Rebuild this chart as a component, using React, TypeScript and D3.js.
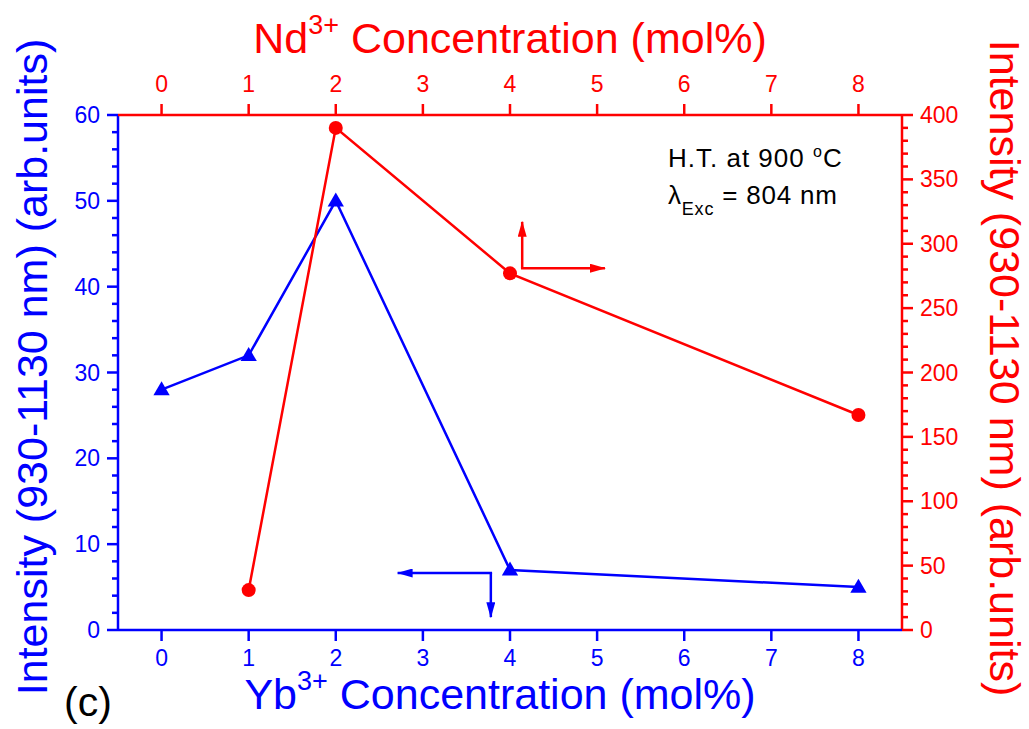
import React from 'react'
import * as d3 from 'd3'

// concentration steps (shared by both x axes)
const concTicks = [0, 1, 2, 3, 4, 5, 6, 7, 8]

// Yb3+ series (left axis, blue triangles)
const ybConc = [0, 1, 2, 4, 8]
const ybIntensity = [28, 32, 50, 7, 5]

// Nd3+ series (right axis, red circles)
const ndConc = [1, 2, 4, 8]
const ndIntensity = [31, 390, 277, 167]

const leftTicks = [0, 10, 20, 30, 40, 50, 60]
const rightTicks = [0, 50, 100, 150, 200, 250, 300, 350, 400]

const W = 1029
const H = 729
const m = { left: 118, right: 902, top: 115, bottom: 630 }
const BLUE = '#0000ff'
const RED = '#ff0000'
const FONT = '"Liberation Sans", Arial, sans-serif'

export default function App() {
  const x = d3.scaleLinear().domain([-0.5, 8.5]).range([m.left, m.right])
  const yL = d3.scaleLinear().domain([0, 60]).range([m.bottom, m.top])
  const yR = d3.scaleLinear().domain([0, 400]).range([m.bottom, m.top])

  const ybLine = d3.line<number>().x((d, i) => x(ybConc[i])).y(d => yL(d))
  const ndLine = d3.line<number>().x((d, i) => x(ndConc[i])).y(d => yR(d))

  const leftMinor = d3.range(0, 61, 2).filter(v => v % 10 !== 0)
  const rightMinor = d3.range(0, 401, 10).filter(v => v % 50 !== 0)

  const tri = d3.symbol().type(d3.symbolTriangle).size(115)()

  // arrow annotations (in data units)
  const redArrow = { x0: 4.14, y0: 281, yUp: 317, xRight: 5.09 }
  const blueArrow = { x0: 3.78, y0: 6.64, xLeft: 2.71, yDown: 1.5 }

  const tickFont = 23
  const titleFont = 43

  return (
    <svg width={W} height={H} style={{ position: 'absolute', left: 0, top: 0, background: '#fff' }} fontFamily={FONT}>
      <defs>
        <marker id="ahRed" viewBox="0 0 16 9" refX="15" refY="4.5" markerWidth="16" markerHeight="9" orient="auto" markerUnits="userSpaceOnUse">
          <path d="M0,0 L16,4.5 L0,9 z" fill={RED} />
        </marker>
        <marker id="ahBlue" viewBox="0 0 16 9" refX="15" refY="4.5" markerWidth="16" markerHeight="9" orient="auto" markerUnits="userSpaceOnUse">
          <path d="M0,0 L16,4.5 L0,9 z" fill={BLUE} />
        </marker>
      </defs>

      {/* data lines */}
      <path d={ybLine(ybIntensity) || ''} fill="none" stroke={BLUE} strokeWidth={2.5} />
      <path d={ndLine(ndIntensity) || ''} fill="none" stroke={RED} strokeWidth={2.5} />
      {ybIntensity.map((v, i) => (
        <path key={'t' + i} d={tri || ''} transform={`translate(${x(ybConc[i])},${yL(v) + 1})`} fill={BLUE} />
      ))}
      {ndIntensity.map((v, i) => (
        <circle key={'c' + i} cx={x(ndConc[i])} cy={yR(v)} r={7} fill={RED} />
      ))}

      {/* arrows */}
      <g stroke={RED} strokeWidth={2.5} fill="none">
        <line x1={x(redArrow.x0)} y1={yR(redArrow.y0)} x2={x(redArrow.x0)} y2={yR(redArrow.yUp)} markerEnd="url(#ahRed)" />
        <line x1={x(redArrow.x0) - 1.25} y1={yR(redArrow.y0)} x2={x(redArrow.xRight)} y2={yR(redArrow.y0)} markerEnd="url(#ahRed)" />
      </g>
      <g stroke={BLUE} strokeWidth={2.5} fill="none">
        <line x1={x(blueArrow.x0) + 1.25} y1={yL(blueArrow.y0)} x2={x(blueArrow.xLeft)} y2={yL(blueArrow.y0)} markerEnd="url(#ahBlue)" />
        <line x1={x(blueArrow.x0)} y1={yL(blueArrow.y0)} x2={x(blueArrow.x0)} y2={yL(blueArrow.yDown)} markerEnd="url(#ahBlue)" />
      </g>

      {/* left axis */}
      <g stroke={BLUE} strokeWidth={2.5}>
        <line x1={m.left} x2={m.left} y1={m.top} y2={m.bottom} />
        {leftTicks.map(t => <line key={t} x1={m.left - 11} x2={m.left} y1={yL(t)} y2={yL(t)} />)}
        {leftMinor.map(t => <line key={t} x1={m.left - 6} x2={m.left} y1={yL(t)} y2={yL(t)} />)}
      </g>
      {leftTicks.map(t => (
        <text key={t} x={m.left - 18} y={yL(t)} dy="0.35em" textAnchor="end" fill={BLUE} fontSize={tickFont}>{t}</text>
      ))}

      {/* right axis */}
      <g stroke={RED} strokeWidth={2.5}>
        <line x1={m.right} x2={m.right} y1={m.top} y2={m.bottom} />
        {rightTicks.map(t => <line key={t} x1={m.right} x2={m.right + 11} y1={yR(t)} y2={yR(t)} />)}
        {rightMinor.map(t => <line key={t} x1={m.right} x2={m.right + 6} y1={yR(t)} y2={yR(t)} />)}
      </g>
      {rightTicks.map(t => (
        <text key={t} x={m.right + 18} y={yR(t)} dy="0.35em" textAnchor="start" fill={RED} fontSize={tickFont}>{t}</text>
      ))}

      {/* bottom axis */}
      <g stroke={BLUE} strokeWidth={2.5}>
        <line x1={m.left} x2={m.right} y1={m.bottom} y2={m.bottom} />
        {concTicks.map(t => <line key={t} x1={x(t)} x2={x(t)} y1={m.bottom} y2={m.bottom + 11} />)}
      </g>
      {concTicks.map(t => (
        <text key={t} x={x(t)} y={m.bottom + 28} dy="0.35em" textAnchor="middle" fill={BLUE} fontSize={tickFont}>{t}</text>
      ))}

      {/* top axis */}
      <g stroke={RED} strokeWidth={2.5}>
        <line x1={m.left} x2={m.right} y1={m.top} y2={m.top} />
        {concTicks.map(t => <line key={t} x1={x(t)} x2={x(t)} y1={m.top} y2={m.top - 11} />)}
      </g>
      {concTicks.map(t => (
        <text key={t} x={x(t)} y={m.top - 31} dy="0.35em" textAnchor="middle" fill={RED} fontSize={tickFont}>{t}</text>
      ))}

      {/* axis titles */}
      <text x={510} y={53} textAnchor="middle" fill={RED} fontSize={titleFont}>
        Nd<tspan dy={-19} fontSize={27}>3+</tspan><tspan dy={19}> Concentration (mol%)</tspan>
      </text>
      <text x={500} y={709} textAnchor="middle" fill={BLUE} fontSize={titleFont}>
        Yb<tspan dy={-19} fontSize={27}>3+</tspan><tspan dy={19}> Concentration (mol%)</tspan>
      </text>
      <text transform={`translate(47,367) rotate(-90)`} textAnchor="middle" fill={BLUE} fontSize={titleFont}>
        Intensity (930-1130 nm) (arb.units)
      </text>
      <text transform={`translate(990,368) rotate(90)`} textAnchor="middle" fill={RED} fontSize={titleFont}>
        Intensity (930-1130 nm) (arb.units)
      </text>

      {/* annotations */}
      <text x={668} y={167} fill="#000" fontSize={26} letterSpacing={1}>
        H.T. at 900 <tspan dy={-10} fontSize={16}>o</tspan><tspan dy={10}>C</tspan>
      </text>
      <text x={668} y={204} fill="#000" fontSize={26} letterSpacing={0.8}>
        λ<tspan dy={11} fontSize={18}>Exc</tspan><tspan dy={-11}> = 804 nm</tspan>
      </text>
      <text x={64} y={716} fill="#000" fontSize={41}>(c)</text>
    </svg>
  )
}
